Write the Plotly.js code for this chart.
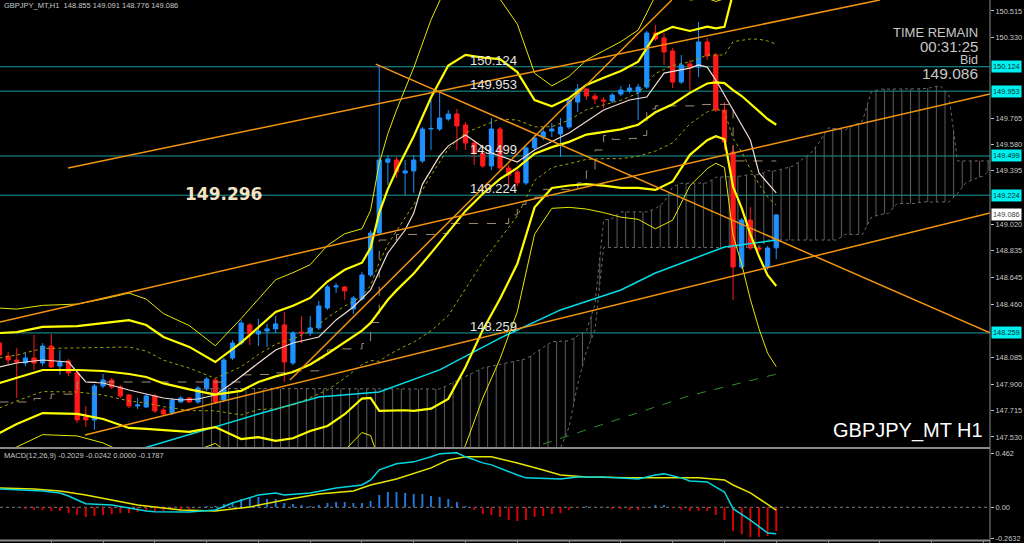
<!DOCTYPE html>
<html><head><meta charset="utf-8">
<script src="https://cdn.plot.ly/plotly-3.0.1.min.js"></script>
<style>html,body{margin:0;padding:0;background:#000;}#chart{width:1024px;height:543px;}</style>
</head><body><div id="chart"></div>
<script>
// ---------- data ----------
const headerText = "GBPJPY_MT,H1  148.855 149.091 148.776 149.086";
const macdText = "MACD(12,26,9) -0.2029 -0.0242 0.0000 -0.1787";
const symbolText = "GBPJPY_MT H1";
const timeRemainText = ["TIME REMAIN", "00:31:25", "Bid", "149.086"];
const noteText = "149.296";

const openP = [148.188,148.097,148.069,148.048,148.083,148.048,148.167,148.027,148.062,147.978,
147.670,147.649,147.887,147.929,147.880,147.824,147.747,147.740,147.817,147.719,
147.698,147.775,147.803,147.775,147.866,147.929,147.789,148.083,148.188,148.315,
148.251,148.272,148.287,148.315,148.048,148.265,148.258,148.294,148.434,148.581,
148.581,148.427,148.497,148.665,148.959,149.455,149.471,149.380,149.394,149.464,
149.688,149.688,149.758,149.793,149.716,149.590,149.520,149.429,149.688,149.415,
149.387,149.310,149.555,149.632,149.674,149.653,149.702,149.877,149.968,149.919,
149.891,149.884,149.933,149.954,149.947,149.982,150.361,150.326,150.235,150.017,
150.144,150.122,150.298,150.207,149.821,149.527,148.721,149.050,148.854,148.721,
148.855];
const highP = [148.223,148.125,148.153,148.125,148.244,148.188,148.251,148.139,148.076,147.985,
147.747,147.901,147.971,147.943,147.894,147.831,147.803,147.831,147.831,147.733,
147.803,147.817,147.810,147.887,147.950,147.943,148.083,148.209,148.350,148.329,
148.357,148.322,148.378,148.406,148.272,148.378,148.378,148.483,148.595,148.609,
148.588,148.518,148.686,148.980,150.137,149.506,149.492,149.471,149.506,149.702,
149.891,149.947,149.821,149.828,149.737,149.611,149.541,149.765,149.702,149.436,
149.401,149.569,149.646,149.695,149.730,149.765,149.905,150.003,149.975,149.940,
149.912,149.940,149.989,150.003,150.003,150.375,150.417,150.361,150.256,150.207,
150.172,150.438,150.326,150.221,149.877,149.576,149.064,149.141,148.875,148.868,
149.091];
const lowP = [148.083,148.034,147.803,148.027,147.999,148.027,148.013,147.964,147.957,147.628,
147.600,147.579,147.873,147.866,147.803,147.733,147.726,147.733,147.698,147.684,
147.684,147.768,147.768,147.761,147.852,147.761,147.775,148.069,148.174,148.174,
148.167,148.160,148.258,147.915,148.034,148.188,148.237,148.280,148.420,148.539,
148.490,148.392,148.483,148.651,148.945,149.296,149.345,149.226,149.240,149.450,
149.541,149.674,149.744,149.541,149.541,149.436,149.415,149.401,149.401,149.282,
149.289,149.296,149.541,149.611,149.632,149.492,149.688,149.807,149.891,149.863,
149.835,149.870,149.919,149.940,149.751,149.968,150.305,150.137,149.975,150.003,
149.961,150.052,150.172,149.807,149.541,148.490,148.707,148.840,148.826,148.700,
148.776];
const closeP = [148.104,148.069,148.055,148.083,148.048,148.167,148.020,148.055,147.978,147.649,
147.649,147.887,147.929,147.880,147.817,147.747,147.754,147.817,147.712,147.691,
147.789,147.803,147.775,147.873,147.936,147.775,148.069,148.188,148.329,148.251,
148.272,148.287,148.322,148.055,148.258,148.258,148.294,148.448,148.581,148.588,
148.553,148.504,148.665,148.959,149.471,149.478,149.387,149.394,149.471,149.688,
149.692,149.765,149.793,149.709,149.590,149.520,149.429,149.688,149.415,149.366,
149.310,149.555,149.625,149.667,149.688,149.702,149.891,149.968,149.919,149.898,
149.884,149.926,149.961,149.975,149.982,150.361,150.319,150.228,150.017,150.137,
150.122,150.298,150.200,149.821,149.597,148.721,149.050,148.854,148.847,148.854,
149.086];

const priceTicks = [150.515,150.330,149.765,149.580,149.395,149.020,148.835,148.645,148.460,148.085,147.900,147.715,147.530];
const levelPrices = [150.124,149.953,149.499,149.224,148.259];
const bidPrice = 149.086;

// Bollinger bands (20): middle, +-1, +-2, +-3 sigma, read at bar indices
const bbBars = [0,2,5,9,12,15,17,19,22,25,28,30,32,34,36,38,40,42,43,44,45,46,47,48,50,52,54,56,58,60,62,64,66,68,70,72,74,76,78,80,82,83,84,85,86,87,88,89,90];
const bbMid = [147.908,147.943,147.999,147.999,147.992,147.971,147.950,147.905,147.863,147.827,147.853,147.915,147.954,147.985,148.038,148.113,148.195,148.275,148.329,148.406,148.491,148.557,148.617,148.675,148.818,148.965,149.114,149.234,149.338,149.415,149.515,149.561,149.598,149.649,149.669,149.685,149.718,149.805,149.862,149.941,150.007,150.015,150.010,149.961,149.919,149.863,149.810,149.758,149.718];
const bbUp1 = [148.083,148.104,148.150,148.153,148.160,148.160,148.132,148.068,148.012,147.941,148.022,148.108,148.180,148.217,148.271,148.366,148.448,148.513,148.592,148.753,148.879,148.978,149.067,149.156,149.363,149.549,149.661,149.711,149.758,149.751,149.703,149.704,149.751,149.823,149.858,149.890,149.939,150.077,150.133,150.158,150.206,150.204,150.207,150.300,150.312,150.319,150.317,150.305,150.283];
const bbUp2 = [148.258,148.265,148.301,148.307,148.328,148.349,148.314,148.231,148.161,148.055,148.191,148.301,148.406,148.449,148.504,148.619,148.701,148.751,148.855,149.100,149.267,149.399,149.517,149.637,149.908,150.133,150.208,150.188,150.178,150.087,149.891,149.847,149.904,149.997,150.047,150.095,150.160,150.349,150.404,150.375,150.405,150.393,150.404,150.639,150.705,150.775,150.824,150.852,150.848];
const bbUp3 = [148.433,148.426,148.452,148.461,148.496,148.538,148.496,148.394,148.310,148.169,148.360,148.494,148.632,148.681,148.737,148.872,148.954,148.989,149.118,149.447,149.655,149.820,149.967,150.118,150.453,150.717,150.755,150.665,150.598,150.423,150.079,149.990,150.057,150.171,150.236,150.300,150.381,150.621,150.675,150.592,150.604,150.582,150.601,150.978,151.098,151.231,151.331,151.399,151.413];
const bbLo1 = [147.733,147.782,147.848,147.845,147.824,147.782,147.768,147.742,147.714,147.713,147.684,147.722,147.728,147.753,147.805,147.860,147.942,148.037,148.066,148.059,148.103,148.136,148.167,148.194,148.273,148.381,148.567,148.757,148.918,149.079,149.327,149.418,149.445,149.475,149.480,149.480,149.497,149.533,149.591,149.724,149.808,149.826,149.813,149.622,149.526,149.407,149.303,149.211,149.153];
const bbLo2 = [147.558,147.621,147.697,147.691,147.656,147.593,147.586,147.579,147.565,147.599,147.515,147.529,147.502,147.521,147.572,147.607,147.689,147.799,147.803,147.712,147.715,147.715,147.717,147.713,147.728,147.797,148.020,148.280,148.498,148.743,149.139,149.275,149.292,149.301,149.291,149.275,149.276,149.261,149.320,149.507,149.609,149.637,149.616,149.283,149.133,148.951,148.796,148.664,148.588];
const bbLo3 = [147.383,147.460,147.546,147.537,147.488,147.404,147.404,147.416,147.416,147.485,147.346,147.336,147.276,147.289,147.339,147.354,147.436,147.561,147.540,147.365,147.327,147.294,147.267,147.232,147.183,147.213,147.473,147.803,148.078,148.407,148.951,149.132,149.139,149.127,149.102,149.070,149.055,148.989,149.049,149.290,149.410,149.448,149.419,148.944,148.740,148.495,148.289,148.117,148.023];

// Ichimoku: kijun-sen and cloud spans (shifted forward)
const kijunBars = [0,4,6,9,28,30,32,33,37,38,39,42,43,44,46,51,52,59,60,61,62,63,67,68,69,70,71,73,74,75,76,81,85,90];
const kijunVals = [147.775,147.800,147.830,147.915,147.965,147.968,147.979,147.993,148.084,148.140,148.147,148.185,148.332,148.910,148.949,148.956,149.026,149.086,149.160,149.187,149.210,149.265,149.310,149.394,149.541,149.643,149.615,149.622,149.643,149.829,149.850,149.860,149.464,149.464];
const spanBars = [23,46,51,56,61,64,66,67,68,69,70,71,72,75,76,77,78,79,82,83,86,87,88,89,90,92,93,94,95,96,97,98,100,101,102,103,104,106,107,108,109,110,111,112,113,114,115,116];
const spanA = [147.870,147.870,147.866,148.013,148.077,148.197,148.204,148.240,148.273,148.458,149.049,149.060,149.107,149.107,149.130,149.175,149.284,149.307,149.310,149.350,149.358,149.371,149.367,149.395,149.395,149.430,149.477,149.520,149.596,149.696,149.690,149.682,149.745,149.946,149.967,149.967,149.967,149.967,149.970,149.978,149.992,149.925,149.464,149.464,149.464,149.464,149.464,149.436];
const spanB = [147.300,147.300,147.300,147.300,147.300,147.300,147.600,147.900,148.130,148.280,148.858,148.858,148.858,148.858,148.858,148.858,148.858,148.858,148.858,148.858,148.858,148.858,148.858,148.910,148.910,148.910,148.910,148.910,148.910,148.910,148.910,148.949,148.949,149.068,149.089,149.096,149.166,149.166,149.177,149.177,149.177,149.177,149.236,149.313,149.338,149.359,149.415,149.415];

const whiteBars = [0,2,5,8,10,12,15,19,21,23,25,27,30,32,34,37,39,41,43,45,47,48,49,50,51,52,54,57,60,62,66,70,73,75,77,80,81,82,83,85,87,88,90];
const whiteVals = [148.020,148.048,148.069,148.055,147.915,147.908,147.859,147.803,147.789,147.796,147.824,147.908,148.048,148.139,148.188,148.230,148.350,148.441,148.560,148.819,148.980,149.099,149.300,149.400,149.500,149.570,149.646,149.520,149.457,149.541,149.660,149.821,149.891,149.912,150.080,150.115,150.137,150.122,150.031,149.821,149.611,149.380,149.240];
const cyanBars = [16,23,30,37,44,51,58,65,72,76,80,84,90];
const cyanVals = [147.439,147.565,147.691,147.810,147.845,148.000,148.223,148.420,148.560,148.679,148.770,148.861,148.910];
const greenBars = [61,70,80,90];
const greenVals = [147.440,147.620,147.820,147.970];

const trendStartBar = [7.94, 0.06, 9.9, 33.66, 43.6];
const trendStartPrice = [149.415, 148.336, 147.544, 147.929, 150.143];
const trendEndBar = [102.0, 114.77, 114.77, 77.9, 114.77];
const trendEndPrice = [150.592, 149.933, 149.099, 150.592, 148.259];

const macdHist = [0.002,0.003,0.002,-0.015,-0.023,-0.023,-0.032,-0.032,-0.049,-0.066,
-0.083,-0.075,-0.066,-0.058,-0.049,-0.049,-0.040,-0.032,-0.032,-0.032,
-0.023,-0.023,-0.015,0.003,0.011,0.011,0.028,0.045,0.071,0.080,
0.088,0.071,0.071,0.037,0.028,0.020,0.011,0.020,0.037,0.045,
0.045,0.037,0.037,0.054,0.106,0.131,0.131,0.123,0.114,0.114,
0.097,0.088,0.071,0.045,0.011,-0.023,-0.058,-0.066,-0.083,-0.109,
-0.118,-0.109,-0.083,-0.075,-0.058,-0.049,-0.023,-0.006,0.011,0.002,
-0.002,-0.015,-0.015,-0.023,-0.023,0.002,0.020,0.020,-0.009,-0.023,
-0.032,-0.032,-0.032,-0.066,-0.109,-0.203,-0.229,-0.255,-0.255,-0.246,
-0.2029];
const macdBars = [0,2,5,7,8,10,13,15,17,18,22,25,27,30,32,33,36,39,42,43,44,46,48,50,51,53,54,56,57,60,61,65,67,70,74,76,77,79,80,82,84,85,87,89,90];
const macdVals = [0.157,0.148,0.140,0.123,0.097,0.030,0.020,-0.006,-0.032,-0.038,-0.040,-0.023,0.037,0.106,0.123,0.106,0.123,0.166,0.191,0.234,0.320,0.372,0.389,0.432,0.458,0.466,0.432,0.380,0.363,0.277,0.252,0.243,0.260,0.260,0.243,0.277,0.286,0.252,0.226,0.217,0.131,-0.012,-0.109,-0.220,-0.227];
const signalBars = [0,4,7,10,13,16,19,21,25,29,33,37,41,43,46,50,52,54,57,60,63,65,68,73,81,84,85,87,90];
const signalVals = [0.166,0.157,0.140,0.106,0.063,0.020,-0.006,-0.023,-0.032,0.003,0.063,0.114,0.140,0.191,0.243,0.337,0.406,0.432,0.432,0.380,0.320,0.277,0.260,0.252,0.252,0.234,0.191,0.123,-0.024];
const macdTicks = [0.462, 0, -0.2632];
const macdTickText = ["0.462", "0.00", "-0.2632"];

// ---------- build ----------
const bars = closeP.map((_, i) => i);
const FONT = "Liberation Sans, Arial, sans-serif";
const traces = [];
function line(x, y, color, width, dash, shape) {
  traces.push({type:'scatter', mode:'lines', x:x, y:y, xaxis:'x', yaxis:'y', hoverinfo:'skip',
    line:{color:color, width:width, dash:dash||'solid', shape:shape||'linear'}});
}
traces.push({type:'scatter', mode:'lines', x:spanBars, y:spanB, xaxis:'x', yaxis:'y', hoverinfo:'skip',
  line:{color:'#6a6a6a', width:1, dash:'dot'}});
traces.push({type:'scatter', mode:'lines', x:spanBars, y:spanA, xaxis:'x', yaxis:'y', hoverinfo:'skip',
  line:{color:'#6a6a6a', width:1, dash:'dot'}, fill:'tonexty',
  fillpattern:{shape:'|', fgcolor:'#5c5c5c', size:8.63, solidity:0.12}});
traces.push({type:'candlestick', x:bars, open:openP, high:highP, low:lowP, close:closeP, xaxis:'x', yaxis:'y',
  increasing:{line:{color:'#1e90ff', width:1}, fillcolor:'#1e90ff'},
  decreasing:{line:{color:'#ff1a1a', width:1}, fillcolor:'#ff1a1a'},
  whiskerwidth:0, hoverinfo:'skip'});
line(greenBars, greenVals, '#2f8f2f', 1, 'dash');
line(kijunBars, kijunVals, '#a08c78', 1, 'dash', 'hv');
line(cyanBars, cyanVals, '#00dde6', 1.5);
line(whiteBars, whiteVals, '#f2dcd2', 1.2);
line(bbBars, bbUp1, '#a3a300', 1, 'dot');
line(bbBars, bbLo1, '#a3a300', 1, 'dot');
line(bbBars, bbUp3, '#e6e600', 1);
line(bbBars, bbLo3, '#e6e600', 1);
line(bbBars, bbUp2, '#ffff00', 2.2);
line(bbBars, bbLo2, '#ffff00', 2.2);
line(bbBars, bbMid, '#ffff00', 2.2);
for (let k = 0; k < trendStartBar.length; k++) {
  line([trendStartBar[k], trendEndBar[k]], [trendStartPrice[k], trendEndPrice[k]], '#f2940f', 1.5);
}
traces.push({type:'bar', x:bars, y:macdHist, xaxis:'x', yaxis:'y2', width:0.22, hoverinfo:'skip',
  marker:{color:macdHist.map(v => v >= 0 ? '#1f7bdc' : '#e00000'), line:{width:0}}});
traces.push({type:'scatter', mode:'lines', x:signalBars, y:signalVals, xaxis:'x', yaxis:'y2', hoverinfo:'skip', line:{color:'#e6e600', width:1.5}});
traces.push({type:'scatter', mode:'lines', x:macdBars, y:macdVals, xaxis:'x', yaxis:'y2', hoverinfo:'skip', line:{color:'#00d5e0', width:1.5}});

const shapes = [];
levelPrices.forEach(p => shapes.push({type:'line', xref:'paper', x0:0, x1:1, yref:'y', y0:p, y1:p, line:{color:'#1a9e9e', width:1}, layer:'below'}));
shapes.push({type:'line', xref:'paper', x0:0, x1:1, yref:'y2', y0:0, y1:0, line:{color:'#808080', width:1, dash:'dot'}, layer:'below'});
shapes.push({type:'line', xref:'paper', yref:'paper', x0:0, x1:1, y0:0.1749, y1:0.1749, line:{color:'#8a8a8a', width:2}});
shapes.push({type:'line', xref:'paper', yref:'paper', x0:0, x1:1, y0:0.0046, y1:0.0046, line:{color:'#8a8a8a', width:2}});
shapes.push({type:'line', xref:'paper', yref:'paper', x0:1, x1:1, y0:0, y1:1, line:{color:'#8a8a8a', width:1}});

const ann = [];
levelPrices.forEach(p => ann.push({xref:'x', x:54.3, xanchor:'left', yref:'y', y:p, yanchor:'bottom', yshift:-3, text:p.toFixed(3), showarrow:false, font:{family:FONT, size:13, color:'#e6e6e6'}}));
levelPrices.forEach(p => ann.push({xref:'paper', x:1, xanchor:'left', xshift:1, yref:'y', y:p, yanchor:'middle', text:p.toFixed(3), showarrow:false, bgcolor:'#00f0f0', borderpad:1, font:{family:FONT, size:7.4, color:'#003030'}}));
ann.push({xref:'paper', x:1, xanchor:'left', xshift:1, yref:'y', y:bidPrice, yanchor:'middle', text:bidPrice.toFixed(3), showarrow:false, bgcolor:'#ffffff', borderpad:1, font:{family:FONT, size:7.4, color:'#404040'}});
ann.push({xref:'x', x:21.3, xanchor:'left', yref:'y', y:149.233, yanchor:'middle', text:'<b>'+noteText+'</b>', showarrow:false, font:{family:'DejaVu Sans, sans-serif', size:17, color:'#f5e3c3'}});
const trY = [0.9405, 0.9145, 0.8895, 0.8645];
const trSize = [13, 15, 12.5, 15.5];
timeRemainText.forEach((t, k) => ann.push({xref:'paper', x:0.989, xanchor:'right', yref:'paper', y:trY[k], yanchor:'middle', text:t, showarrow:false, borderpad:0, font:{family:FONT, size:trSize[k], color:'#c8c8c8'}}));
ann.push({xref:'paper', x:0.995, xanchor:'right', yref:'paper', y:0.2063, yanchor:'middle', text:symbolText, showarrow:false, font:{family:FONT, size:20, color:'#ffffff'}});
ann.push({xref:'paper', x:0.002, xanchor:'left', yref:'paper', y:0.989, yanchor:'middle', text:headerText, showarrow:false, font:{family:FONT, size:7.5, color:'#c8c8c8'}});
ann.push({xref:'paper', x:0.002, xanchor:'left', yref:'paper', y:0.162, yanchor:'middle', text:macdText, showarrow:false, font:{family:FONT, size:7.5, color:'#c8c8c8'}});

const xt = []; for (let i = 0; i <= 114; i += 6) xt.push(i);
const layout = {
  width:1024, height:543, paper_bgcolor:'#000', plot_bgcolor:'#000',
  margin:{l:0, r:34, t:0, b:0}, showlegend:false, hovermode:false,
  xaxis:{range:[0.058,114.77], anchor:'y2', showgrid:false, zeroline:false, showticklabels:false,
    ticks:'outside', ticklen:3, tickcolor:'#8a8a8a', tickvals:xt, rangeslider:{visible:false}, showline:false},
  yaxis:{domain:[0.1768,1], range:[147.4595,150.592], side:'right', anchor:'x', showgrid:false, zeroline:false,
    tickvals:priceTicks, ticktext:priceTicks.map(v => v.toFixed(3)), ticks:'outside', ticklen:3, tickcolor:'#c0c0c0',
    tickfont:{family:FONT, size:7.4, color:'#c8c8c8'}},
  yaxis2:{domain:[0.00552,0.17311], range:[-0.280,0.499], side:'right', anchor:'x', showgrid:false, zeroline:false,
    tickvals:macdTicks, ticktext:macdTickText, ticks:'outside', ticklen:3, tickcolor:'#c0c0c0',
    tickfont:{family:FONT, size:7.4, color:'#c8c8c8'}},
  shapes:shapes, annotations:ann
};
Plotly.newPlot('chart', traces, layout, {staticPlot:true});
</script></body></html>
